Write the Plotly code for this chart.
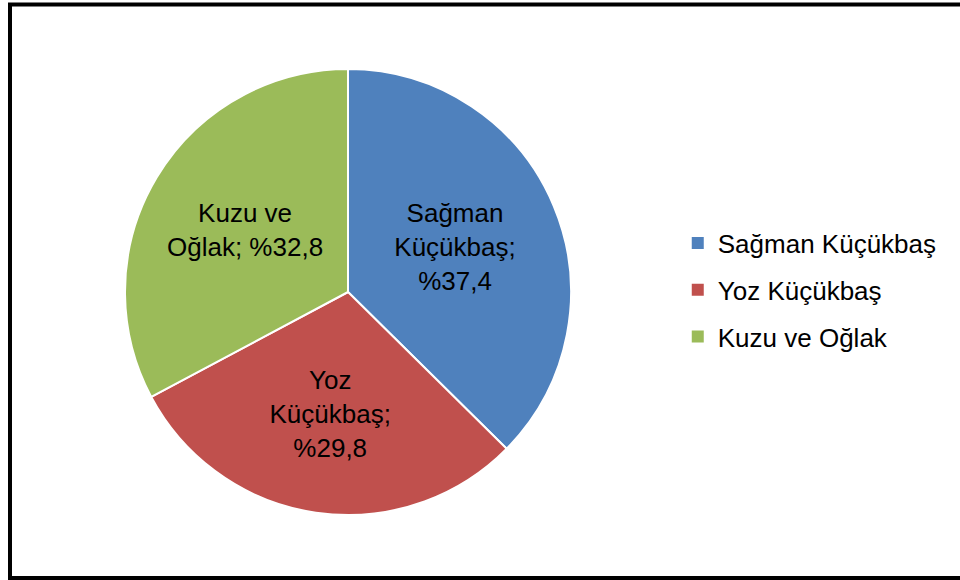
import plotly.graph_objects as go

# pay dağılımı
kategoriler = ["Sağman Küçükbaş", "Yoz Küçükbaş", "Kuzu ve Oğlak"]
oranlar = [37.4, 29.8, 32.8]
etiketler = ["Sağman<br>Küçükbaş;<br>%37,4", "Yoz<br>Küçükbaş;<br>%29,8", "Kuzu ve<br>Oğlak; %32,8"]
renkler = ["#4F81BD", "#C0504D", "#9BBB59"]

W, H = 960, 580
cx, cy, r = 348, 292, 223

fig = go.Figure(go.Pie(
    labels=kategoriler,
    values=oranlar,
    text=etiketler,
    textinfo="text",
    textposition="inside",
    insidetextorientation="horizontal",
    sort=False,
    direction="clockwise",
    rotation=0,
    marker=dict(colors=renkler, line=dict(color="white", width=2)),
    textfont=dict(color="black", size=26),
    hoverinfo="label+percent",
    showlegend=False,
    domain=dict(x=[(cx - r) / W, (cx + r) / W], y=[(H - cy - r) / H, (H - cy + r) / H]),
))

# lejant: her dilim icin ayri grup, araliklar daha genis olsun diye
for ad, renk in zip(kategoriler, renkler):
    fig.add_trace(go.Scatter(x=[None], y=[None], mode="markers", name=ad,
                             legendgroup=ad, hoverinfo="skip",
                             marker=dict(symbol="square", size=12, color=renk)))

fig.update_layout(
    width=W, height=H,
    margin=dict(l=0, r=0, t=0, b=0),
    paper_bgcolor="white",
    plot_bgcolor="white",
    xaxis=dict(visible=False),
    yaxis=dict(visible=False),
    font=dict(family="Liberation Sans, Arial, sans-serif", color="black"),
    legend=dict(x=0.706, y=0.5, xanchor="left", yanchor="middle",
                font=dict(size=26), itemwidth=30, tracegroupgap=10),
    shapes=[dict(type="rect", xref="paper", yref="paper",
                 x0=10 / W, x1=1.02, y0=(H - 578) / H, y1=(H - 4.5) / H,
                 line=dict(color="black", width=4))],
)

fig.write_html("out.html", config={"displayModeBar": False},
               post_script="document.body.style.margin='0';")
